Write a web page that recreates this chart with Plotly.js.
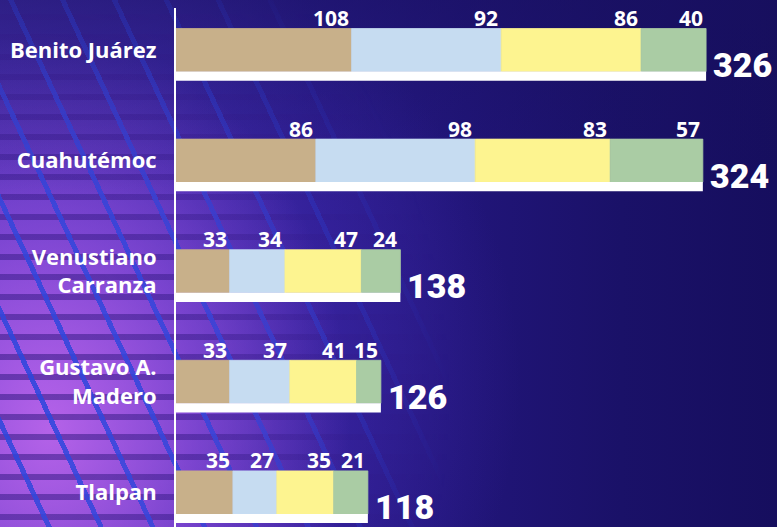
<!DOCTYPE html>
<html>
<head>
<meta charset="utf-8">
<script src="https://cdn.plot.ly/plotly-3.0.1.min.js"></script>
<style>
  html, body { margin:0; padding:0; width:777px; height:527px; overflow:hidden; }
  #bg { position:absolute; left:0; top:0; width:777px; height:527px;
    background:
      linear-gradient(180deg, rgba(24,16,95,0.55) 0%, rgba(24,16,95,0.25) 18%, rgba(24,16,95,0) 38%),
      radial-gradient(ellipse 300px 400px at 50px 430px, rgba(195,105,238,0.85) 0%, rgba(160,85,228,0.55) 50%, rgba(120,60,210,0) 100%),
      radial-gradient(ellipse 480px 460px at 40px 380px, rgba(110,65,210,0.85) 0%, rgba(70,42,180,0.55) 50%, rgba(40,25,140,0) 100%),
      linear-gradient(90deg, #4a33b4 0%, #3c2aa4 20%, #2a1c8c 40%, #211579 60%, #1a1168 80%, #160e5e 100%);
  }
  #grid { position:absolute; left:0; top:0; width:777px; height:527px;
    background:
      repeating-linear-gradient(65deg, rgba(0,0,0,0) 0px, rgba(0,0,0,0) 42px, rgba(40,70,220,0.85) 42px, rgba(40,70,220,0.85) 47px),
      repeating-linear-gradient(180deg, rgba(0,0,0,0) 0px, rgba(0,0,0,0) 14px, rgba(50,24,130,0.55) 14px, rgba(50,24,130,0.55) 20px);
    -webkit-mask-image: radial-gradient(ellipse 420px 520px at 30px 400px, #000 0%, rgba(0,0,0,0.85) 40%, rgba(0,0,0,0) 100%);
    mask-image: radial-gradient(ellipse 420px 520px at 30px 400px, #000 0%, rgba(0,0,0,0.85) 40%, rgba(0,0,0,0) 100%);
  }
  #chart { position:absolute; left:0; top:0; width:777px; height:527px; }
</style>
</head>
<body>
<div id="bg"></div>
<div id="grid"></div>
<div id="chart"></div>
<script>
// Data
const categories = ['Benito Juárez', 'Cuahutémoc', 'Venustiano<br>Carranza', 'Gustavo A.<br>Madero', 'Tlalpan'];
const seriesA = [108, 86, 33, 33, 35];
const seriesB = [92, 98, 34, 37, 27];
const seriesC = [86, 83, 47, 41, 35];
const seriesD = [40, 57, 24, 15, 21];

const series = [seriesA, seriesB, seriesC, seriesD];
const colors = ['#c8b08a', '#c6dcf1', '#fdf490', '#aacca4'];

const totals = categories.map((_, i) => series.reduce((s, arr) => s + arr[i], 0));

const xMax = 369.6;
const plotW = 777 - 176;
const pxPerUnit = plotW / xMax;

const traces = [];
const annotations = [];
const bases = categories.map(() => 0);
series.forEach((vals, k) => {
  const b = bases.slice();
  traces.push({
    type: 'bar', orientation: 'h',
    y: categories, x: vals, base: b,
    width: 0.389, offset: -0.1945,
    marker: { color: colors[k], line: { width: 0.8, color: colors[k] } },
    hoverinfo: 'skip', showlegend: false
  });
  vals.forEach((v, i) => {
    bases[i] += v;
    const next = series[k + 1] ? series[k + 1][i] : null;
    const crowded = next !== null && next * pxPerUnit < 30;
    annotations.push({
      x: bases[i], y: categories[i], xref: 'x', yref: 'y',
      text: String(v), showarrow: false,
      xanchor: 'right', yanchor: 'middle', xshift: crowded ? -9 : -1, yshift: 32,
      font: { family: 'Open Sans', size: 21, color: '#ffffff', weight: 700 }
    });
  });
});

// white underline bar (total)
traces.push({
  type: 'bar', orientation: 'h',
  y: categories, x: totals, base: categories.map(() => 0),
  width: 0.083, offset: 0.1945,
  marker: { color: '#ffffff', line: { width: 0 } },
  hoverinfo: 'skip', showlegend: false
});

totals.forEach((t, i) => {
  annotations.push({
    x: t, y: categories[i], xref: 'x', yref: 'y',
    text: String(t), showarrow: false,
    xanchor: 'left', yanchor: 'middle', xshift: 5, yshift: -15,
    font: { family: 'Roboto', size: 34, color: '#ffffff', weight: 900 }
  });
});

const layout = {
  width: 777, height: 527,
  margin: { l: 176, r: 0, t: 8, b: 0, pad: 0 },
  paper_bgcolor: 'rgba(0,0,0,0)',
  plot_bgcolor: 'rgba(0,0,0,0)',
  barmode: 'overlay',
  showlegend: false,
  xaxis: { range: [0, xMax], visible: false, fixedrange: true },
  yaxis: {
    type: 'category', range: [4.313, -0.38],
    showline: true, linecolor: '#ffffff', linewidth: 2,
    showgrid: false, zeroline: false, ticks: '',
    ticklabelstandoff: 13,
    tickfont: { family: 'Open Sans', size: 22, color: '#ffffff', weight: 700 },
    fixedrange: true
  },
  annotations: annotations
};

Plotly.newPlot('chart', traces, layout, { staticPlot: true, displayModeBar: false });
</script>
</body>
</html>
